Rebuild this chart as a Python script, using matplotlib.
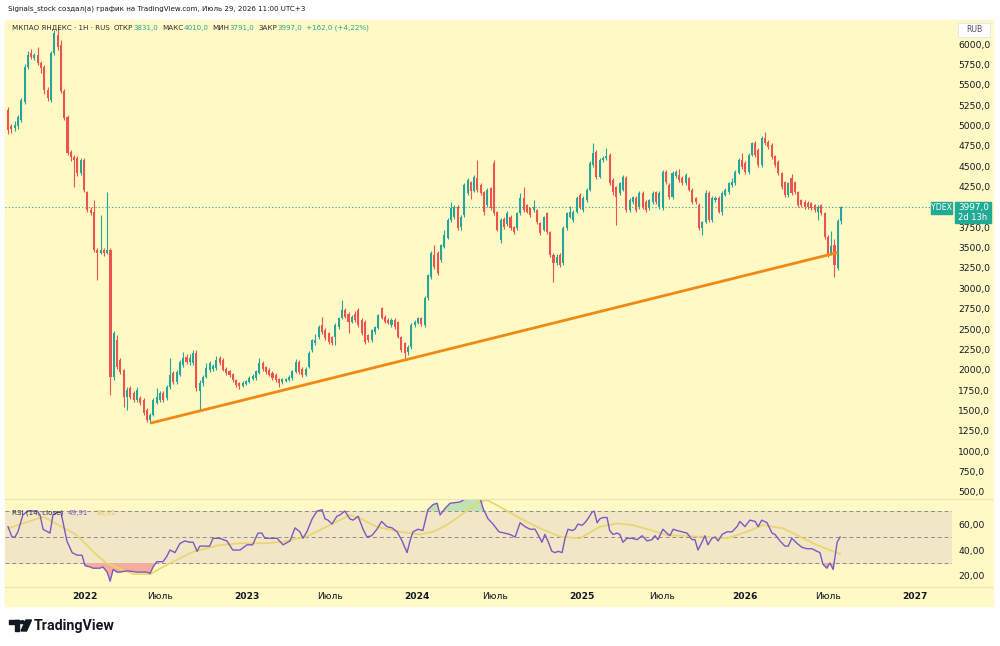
import matplotlib
matplotlib.use("Agg")
import matplotlib.pyplot as plt
from matplotlib.patches import Rectangle, Polygon, Circle
from matplotlib.lines import Line2D
import numpy as np

# ---------------- data ----------------
opens = [5190,4990,4970,4990,5070,5290,5718,5890,5830,5865,5767,5718,5435,5312,5890,6110,5990,5420,5104,4674,
         4613,4600,4416,4576,4183,3962,3937,3471,3440,3471,3434,3471,
         1912,2366,2120,1998,1666,1777,1715,1629,1654,1629,
         1507,1380,1445,1593,1629,1715,1654,1789,1961,1850,
         1936,2059,2157,2096,2084,2206,1740,1838,1912,1998,
         2010,2022,2145,2120,2010,1985,1950,1875,1838,1801,
         1826,1850,1887,1900,1961,2084,2034,1998,1961,1936,
         1887,1850,1862,1875,1900,1973,2096,2010,1936,2034,
         2243,2329,2403,2550,2489,2452,2400,2400,2526,2636,
         2734,2690,2587,2690,2734,2611,2587,2427,2366,2460,
         2513,2760,2648,2611,2550,2611,2587,2403,2329,2218,
         2280,2550,2575,2636,2550,2882,3140,3410,3434,3348,
         3508,3618,3839,3876,3999,3753,3900,4171,4300,4200,
         4355,4269,4183,4023,4230,4539,3937,3594,3851,3790,
         3876,3753,3741,3925,4109,4023,3987,3962,3962,3803,
         3716,3925,3692,3410,3311,3410,3311,3741,3876,3839,
         3937,4147,3962,4085,4208,4514,4674,4367,4576,4600,
         4637,4330,4244,4171,4208,4355,3962,4060,4109,3999,
         4171,4060,3987,4060,4183,3999,3987,4429,4269,4122,
         4380,4392,4355,4294,4355,4208,4109,4023,3741,3815,
         4171,3839,4085,4109,3937,4147,4183,4269,4294,4416,
         4576,4539,4429,4637,4785,4700,4514,4845,4797,4760,
         4625,4551,4416,4306,4147,4355,4306,4183,4085,4060,
         4047,4047,4023,3937,4023,3925,3631,3434,3532,3250,
         3831]
highs = [5230,5020,5060,5130,5340,5760,5910,5940,5890,5967,5790,5740,5470,5920,6172,6212,6050,5450,5130,4700,
         4640,4620,4600,4600,4200,4000,4085,3500,3901,3500,4183,3490,
         2480,2427,2150,2010,1790,1800,1740,1790,1680,1650,
         1530,1470,1650,1777,1740,1740,1810,2145,1990,2000,
         2120,2219,2200,2190,2243,2243,1870,1940,2084,2110,
         2070,2170,2170,2140,2030,2000,1960,1890,1850,1860,
         1880,1920,1950,2000,2145,2110,2050,2020,1980,1960,
         1900,1900,1900,1930,2000,2130,2120,2030,2030,2230,
         2380,2440,2550,2648,2510,2470,2420,2570,2650,2857,
         2760,2710,2670,2720,2760,2630,2610,2440,2500,2540,
         2690,2771,2670,2630,2630,2640,2600,2420,2340,2300,
         2570,2610,2650,2650,2900,3180,3460,3532,3460,3550,
         3716,3860,4060,4020,4020,3900,4290,4360,4320,4390,
         4576,4290,4200,4230,4250,4580,3950,3860,3870,3950,
         3900,3770,3940,4171,4244,4040,4000,4085,3980,3820,
         3890,3940,3710,3430,3420,3430,3760,3940,4010,3960,
         4130,4170,4130,4230,4560,4785,4700,4600,4630,4723,
         4660,4360,4260,4310,4390,4380,4110,4140,4130,4190,
         4190,4080,4100,4190,4200,4190,4450,4450,4290,4440,
         4450,4470,4380,4420,4370,4230,4120,4050,3830,4208,
         4190,4130,4130,4130,4190,4230,4310,4360,4450,4600,
         4660,4560,4660,4800,4810,4720,4870,4920,4820,4780,
         4640,4570,4430,4320,4310,4400,4320,4200,4100,4080,
         4070,4060,4040,4020,4040,3940,3650,3700,3600,3850,
         4010]
lows = [4900,4910,4930,4960,5040,5260,5690,5810,5800,5740,5650,5390,5300,5290,5860,5930,5400,5070,4640,4560,
        4244,4380,4390,4180,3940,3900,3450,3103,3420,3400,3420,1691,
        1880,2010,1950,1543,1507,1640,1600,1600,1570,1450,
        1360,1347,1430,1580,1600,1600,1630,1770,1830,1830,
        1920,2040,2070,2060,2060,1740,1507,1800,1900,1970,
        1990,2000,2060,1980,1940,1910,1850,1790,1760,1790,
        1810,1840,1870,1880,1950,1990,1950,1920,1880,1850,
        1790,1830,1850,1860,1880,1960,1950,1910,1920,2020,
        2220,2300,2380,2440,2360,2320,2300,2310,2500,2620,
        2630,2452,2570,2590,2530,2430,2320,2340,2340,2440,
        2500,2620,2570,2560,2530,2500,2390,2220,2145,2180,
        2260,2530,2560,2540,2530,2860,3120,3240,3160,3320,
        3490,3600,3820,3850,3720,3720,3880,4150,4100,4180,
        4180,4150,3900,4000,3960,3900,3700,3557,3730,3770,
        3720,3670,3720,3900,3940,3920,3880,3940,3790,3660,
        3700,3670,3390,3078,3290,3260,3290,3720,3860,3820,
        3920,3980,3940,4060,4190,4490,4340,4350,4550,4580,
        4270,4150,3780,4150,4190,3940,3940,4040,3940,3980,
        3980,3940,3960,4040,4040,3980,3960,4280,4100,4100,
        4360,4310,4270,4270,4190,4040,4040,3720,3655,3800,
        3820,3820,4060,3920,3900,4130,4160,4250,4270,4400,
        4470,4400,4410,4620,4610,4490,4490,4760,4710,4590,
        4490,4390,4220,4120,4120,4150,4160,4000,4000,3980,
        3980,3960,3940,3840,3900,3610,3390,3410,3140,3230,
        3791]
closes = [4944,4960,5010,5100,5312,5718,5865,5840,5865,5767,5705,5435,5340,5890,6135,5963,5420,5092,4662,4613,
          4580,4416,4576,4208,3962,3925,3471,3434,3471,3434,3471,1912,
          2452,2034,1973,1666,1752,1666,1629,1752,1593,1470,
          1384,1445,1629,1666,1715,1629,1789,1936,1850,1973,
          2096,2145,2096,2145,2206,1777,1838,1912,2022,2084,
          2046,2120,2084,1998,1961,1936,1875,1814,1801,1838,
          1862,1900,1924,1985,2084,2010,1973,1936,1900,1875,
          1838,1887,1887,1912,1985,2096,1973,1936,2010,2206,
          2366,2366,2526,2470,2390,2341,2330,2550,2636,2734,
          2648,2587,2648,2611,2550,2452,2341,2366,2489,2526,
          2673,2636,2587,2575,2611,2526,2403,2243,2206,2280,
          2550,2587,2636,2562,2882,3164,3434,3262,3189,3532,
          3655,3839,3987,3999,3741,3876,4269,4330,4200,4367,
          4208,4171,3937,4208,3987,3925,3716,3839,3753,3925,
          3741,3692,3925,4109,3962,3937,3901,3999,3815,3680,
          3876,3692,3410,3311,3385,3287,3741,3925,3937,3937,
          4109,3999,4109,4208,4539,4662,4367,4576,4600,4625,
          4294,4183,4122,4294,4367,3962,4085,4122,3962,4171,
          3999,3962,4085,4171,4060,4171,4429,4306,4122,4416,
          4429,4330,4294,4392,4208,4060,4060,3741,3815,4171,
          3839,4109,4109,3937,4171,4208,4294,4306,4429,4576,
          4490,4429,4637,4785,4637,4514,4845,4785,4735,4613,
          4514,4416,4244,4147,4294,4171,4183,4023,4023,3999,
          3999,3987,3962,3999,3925,3631,3410,3520,3287,3831,
          3997]

rsi_x = [0,1.2,2.1,3.0,4.5,6.0,7.6,8.8,9.7,10.6,
         12.7,13.6,14.8,16.0,16.6,17.8,19.4,20.9,22.4,23.3,
         24.8,25.7,27.8,28.7,30.0,30.9,31.8,33,34,36,
         39,42,43,43.9,45,46.9,48,49,50.5,52,
         53.5,55,56,57.2,58,61,62,64,66.2,68,
         70.2,72.3,74,75.6,76.8,77.7,79.3,81.4,83.2,85.3,
         86.8,88.3,89.2,90.4,92,93.5,95,95.9,96.8,98,
         99.5,100.4,101.9,103.4,104.4,105.9,107.4,108.6,110,111.6,
         113,114.6,116.2,117.7,119.2,120.7,121.6,122.5,124,125.5,
         127,128.6,129.8,130.7,132.2,133.7,136.7,138.8,142.8,143.7,
         145.2,146.7,148.5,
         150.3,151.8,153.4,154.9,156.4,157.9,159.4,160.3,161.5,162.4,
         163.3,164.5,165.5,166.4,167.6,168.5,169.4,170.6,171.5,172.4,
         173.6,174.5,175.4,176.6,177.3,178.2,179,180,181.2,182,
         183,184.2,185.1,186,187.2,188.7,190.3,191.8,193.3,194.8,
         195.7,196.6,198.1,199.3,200.2,201.2,202.4,203.9,205.4,206.9,
         207.8,208.7,209.9,210.8,211.7,212.9,213.9,214.8,216,217.5,
         219,220.5,221.4,222.9,224.4,226,226.9,228,229.6,231.1,
         232,233.5,235,236,237.1,238.7,240.2,241.7,243.2,244.7,
         245.6,246.5,247.7,248.6,249.6,250.8,251.7]
rsi_v = [58,50,50,54,67,70,70,70,67,56,
         53,67,69,69,62,47,38,36,36,28,
         27,26,26,27,23,16,25,23,23,24,
         23,23,22,27,31,31,35,40,38,45,
         47,46,46,39,43,43,49,49,47,40,
         40,44,44,53,53,49,49,49,44,47,
         57,54,49,54,64,70,71,64,63,60,
         66,67,70,64,63,66,56,50,51,56,
         62,58,57,54,47,38,47,54,56,55,
         71,75,76,67,72,76,77,80,80,72,
         64,60,54,
         53,52,50,61,58,56,56,52,46,52,
         47,39,38,39,38,49,56,55,56,60,
         59,61,64,69,70,61,64,65,65,55,
         52,53,52,46,49,49,48,51,47,48,
         51,48,56,53,51,56,55,54,53,48,
         48,40,46,51,44,49,50,47,52,54,
         54,58,62,58,63,62,58,63,61,53,
         52,47,43,43,49,45,42,41,41,39,
         38,29,26,30,25,46,50]

rsima_x = [0,10.7,20.8,26.8,29.9,37.9,43,48,56,64.1,
           70.2,78.2,83.3,90.3,95.4,100.4,103.4,106.5,111.5,118.6,
           124.6,128.6,132.7,137.7,141.8,144.8,147.8,154.9,160.9,167,
           173,179,184.2,189,194.2,199.3,209.3,217.5,223.5,228.4,
           234.4,239.6,244.7,251.7]
rsima_v = [56.7,65.6,51.5,36.2,29.7,21.5,21.5,28.5,38.7,43.8,
           45.2,45.2,46.4,50.3,56.7,63.1,66.9,64.4,57.9,54,
           52,54,59.2,68.2,75.9,78.5,74.6,64.4,56.7,50.3,
           49,57.9,60.5,59.2,55.4,51.5,50.3,49,54,59.2,
           56.7,50.3,43.8,36.9]

x_tick_pos = [23.3, 46.0, 72.3, 97.4, 123.7, 147.3, 173.6, 197.8, 222.9, 248.0, 274.3]
x_tick_lab = ["2022", "Июль", "2023", "Июль", "2024", "Июль", "2025", "Июль", "2026", "Июль", "2027"]
price_ticks = list(range(500, 6001, 250))
rsi_ticks = [20, 40, 60]
rsi_levels = [70, 50, 30]
trend_x = [43.3, 250.7]
trend_y = [1347, 3437]
last_price = 3997.0
rsi_last, rsima_last = "49,91", "36,91"

# ---------------- styling / layout ----------------
W, H = 1000, 646
YEL = "#FFF9C6"
BAND = "#F1E6C6"
GREEN = "#26A69A"
RED = "#EF5350"
TXT = "#131722"
DARK = "#2A2E39"
plt.rcParams["font.family"] = ["DejaVu Sans"]

def fx(px):
    return px / W

def fy(py):
    return 1 - py / H

fig = plt.figure(figsize=(10, 6.46), dpi=100, facecolor="white")
bg = Rectangle((fx(5), fy(606)), fx(993) - fx(5), fy(20) - fy(606),
               transform=fig.transFigure, color=YEL, zorder=-10)
fig.add_artist(bg)

X0, X1 = (5 - 8) / 3.306, (952 - 8) / 3.306

ax = fig.add_axes([fx(5), fy(497), fx(952) - fx(5), fy(20) - fy(497)])
ax2 = fig.add_axes([fx(5), fy(586), fx(952) - fx(5), fy(500) - fy(586)])
for a in (ax, ax2):
    a.set_facecolor("none")
    a.set_zorder(1)
    for s in a.spines.values():
        s.set_visible(False)
    a.set_xlim(X0, X1)

# candles
o = np.array(opens, float); h = np.array(highs, float)
l = np.array(lows, float); c = np.array(closes, float)
idx = np.arange(len(c))
cols = np.where(c >= o, GREEN, RED)
ax.vlines(idx, l, h, colors=cols, lw=0.8, zorder=3)
ax.bar(idx, np.maximum(np.abs(c - o), 14), bottom=np.minimum(o, c), width=0.62,
       color=cols, linewidth=0, zorder=4)
ax.plot(trend_x, trend_y, color="#F08A14", lw=2.0, solid_capstyle="round", zorder=5)
ax.axhline(last_price, color=GREEN, lw=0.8, ls=(0, (1, 2)), zorder=2)

ax.set_ylim(438, 6295)
ax.yaxis.tick_right()
ax.set_yticks(price_ticks)
ax.set_yticklabels([f"{v:.1f}".replace(".", ",") for v in price_ticks])
ax.tick_params(axis="y", length=0, pad=4.5, labelsize=6.6, labelcolor=TXT)
ax.tick_params(axis="x", bottom=False, labelbottom=False)

# RSI panel
rx = np.array(rsi_x); rv = np.array(rsi_v, float)
ax2.set_ylim(12.3, 78.5)
ax2.axhspan(30, 70, color=BAND, zorder=0)
for lv in rsi_levels:
    ax2.axhline(lv, color="#8E8E8E", lw=0.7, ls=(0, (4, 3)), zorder=1)
ax2.fill_between(rx, rv, 30, where=rv < 30, interpolate=True, color="#F5AE9C", lw=0, zorder=2)
ax2.fill_between(rx, rv, 70, where=rv > 70, interpolate=True, color="#BFE3B4", lw=0, zorder=2)
ax2.plot(rsima_x, rsima_v, color="#EAD56C", lw=1.2, zorder=3)
ax2.plot(rx, rv, color="#7E57C2", lw=1.0, zorder=4)
ax2.yaxis.tick_right()
ax2.set_yticks(rsi_ticks)
ax2.set_yticklabels([f"{v:.2f}".replace(".", ",") for v in rsi_ticks])
ax2.tick_params(axis="y", length=0, pad=4.5, labelsize=6.6, labelcolor=TXT)
ax2.set_xticks(x_tick_pos)
ax2.set_xticklabels(x_tick_lab)
ax2.tick_params(axis="x", length=0, pad=4.5, labelsize=6.6, labelcolor=TXT)
for t in ax2.get_xticklabels():
    if t.get_text().isdigit():
        t.set_fontweight("bold")

# separators
for yy in (498.5, 587):
    fig.add_artist(Line2D([fx(5), fx(993)], [fy(yy), fy(yy)], color="#ECE3B2", lw=0.8, zorder=-5))

ren = fig.canvas.get_renderer()

def fit(s, px, py, wpx, **kw):
    t = fig.text(fx(px), fy(py), s, fontsize=10, va="center", ha="left", **kw)
    w = t.get_window_extent(ren).width
    t.set_fontsize(10 * wpx / w)
    return t

def width_px(t):
    return t.get_window_extent(ren).width

# top header
fit("Signals_stock создал(а) график на TradingView.com, Июль 29, 2026 11:00 UTC+3", 8, 9, 297, color=TXT)

# legend line inside the chart: laid out sequentially, then scaled to span 12..372 px
pieces = [("МКПАО ЯНДЕКС · 1H · RUS", DARK, 5), ("ОТКР", DARK, 0), ("3831,0", GREEN, 5),
          ("МАКС", DARK, 0), ("4010,0", GREEN, 5), ("МИН", DARK, 0), ("3791,0", GREEN, 5),
          ("ЗАКР", DARK, 0), ("3997,0", GREEN, 5), ("+162,0 (+4,22%)", GREEN, 0)]
fs = 6.0
texts = []
for s, col, gap in pieces:
    texts.append(fig.text(0, fy(28), s, fontsize=fs, va="center", ha="left", color=col))
total = sum(width_px(t) for t in texts) + sum(g for _, _, g in pieces)
scale = 360.0 / total
fs2 = fs * scale
x = 12.0
for t, (s, col, gap) in zip(texts, pieces):
    t.set_fontsize(fs2)
for t, (s, col, gap) in zip(texts, pieces):
    t.set_x(fx(x))
    x += width_px(t) + gap * scale

# RSI legend
t1 = fit("RSI (14, close)", 12, 513, 51, color=DARK)
fig.text(fx(68), fy(513), rsi_last, fontsize=t1.get_fontsize(), va="center", color="#7E57C2")
fig.text(fx(95), fy(513), rsima_last, fontsize=t1.get_fontsize(), va="center", color="#E3CE5E")

# last price labels
LBL = "#22AB94"
fig.add_artist(Rectangle((fx(931), fy(214)), fx(952) - fx(931), fy(202) - fy(214),
                         transform=fig.transFigure, color=LBL, zorder=5))
fig.text(fx(941.5), fy(208), "YDEX", fontsize=5.6, color="white", ha="center", va="center", zorder=6)
fig.add_artist(Rectangle((fx(955), fy(223)), fx(991) - fx(955), fy(202) - fy(223),
                         transform=fig.transFigure, color=LBL, zorder=5))
fig.text(fx(958), fy(207.5), "3997,0", fontsize=6.4, color="white", ha="left", va="center", zorder=6)
fig.text(fx(958), fy(217.5), "2d 13h", fontsize=6.0, color="white", ha="left", va="center", zorder=6)

# RUB box
fig.add_artist(Rectangle((fx(958), fy(37)), fx(990) - fx(958), fy(23) - fy(37),
                         transform=fig.transFigure, facecolor="white", edgecolor="#E0E3EB",
                         lw=0.6, zorder=5))
fig.text(fx(974), fy(30), "RUB", fontsize=5.6, color="#50535E", ha="center", va="center", zorder=6)

# TradingView logo
K = "#131722"
fig.add_artist(Rectangle((fx(9), fy(624)), fx(19) - fx(9), fy(620) - fy(624),
                         transform=fig.transFigure, color=K))
fig.add_artist(Rectangle((fx(14.5), fy(631)), fx(19) - fx(14.5), fy(620) - fy(631),
                         transform=fig.transFigure, color=K))
fig.add_artist(Circle((fx(22.3), fy(622.2)), 2.2 / W, transform=fig.transFigure, color=K))
fig.add_artist(Polygon([(fx(26), fy(620)), (fx(31.5), fy(620)), (fx(26.5), fy(631)), (fx(21), fy(631))],
                       closed=True, transform=fig.transFigure, color=K))
fit("TradingView", 34, 626, 81, color=K, fontweight="bold", family=["Roboto", "DejaVu Sans"])

fig.savefig("out.png", dpi=100, facecolor="white")
